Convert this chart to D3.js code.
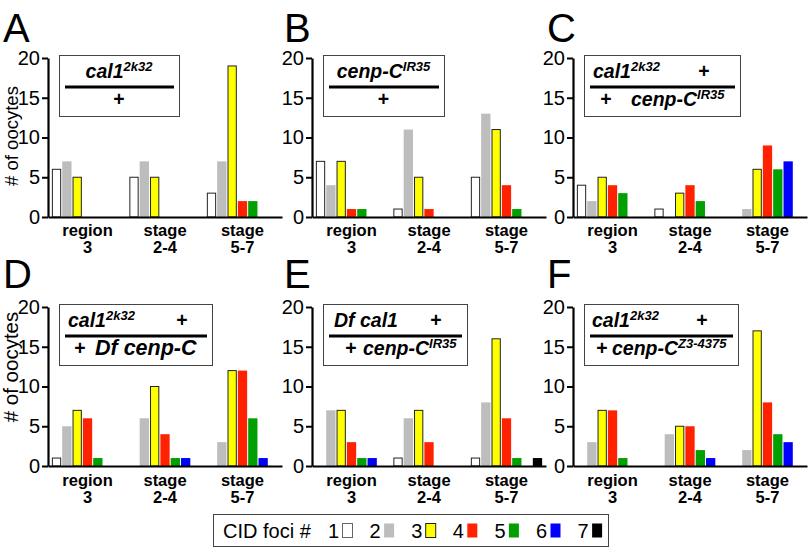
<!DOCTYPE html>
<html>
<head>
<meta charset="utf-8">
<script src="https://cdn.jsdelivr.net/npm/d3@7"></script>
<style>
  body { margin: 0; background: #fff; }
  svg { display: block; font-family: "Liberation Sans", Arial, sans-serif; }
</style>
</head>
<body>
<div id="chart"></div>
<script>
const categories = [['region', '3'], ['stage', '2-4'], ['stage', '5-7']]
const fociNumbers = ['1', '2', '3', '4', '5', '6', '7']
const fociColors = ['#ffffff', '#bdbdbd', '#ffff00', '#ff2200', '#00a000', '#0000ff', '#000000']
const yTicks = [0, 5, 10, 15, 20]
const panelLetters = ['A', 'B', 'C', 'D', 'E', 'F']

// one row per stage, one value per CID foci number (1..7)
const countsA = [[6, 7, 5, 0, 0, 0, 0], [5, 7, 5, 0, 0, 0, 0], [3, 7, 19, 2, 2, 0, 0]]
const countsB = [[7, 4, 7, 1, 1, 0, 0], [1, 11, 5, 1, 0, 0, 0], [5, 13, 11, 4, 1, 0, 0]]
const countsC = [[4, 2, 5, 4, 3, 0, 0], [1, 0, 3, 4, 2, 0, 0], [0, 1, 6, 9, 6, 7, 0]]
const countsD = [[1, 5, 7, 6, 1, 0, 0], [0, 6, 10, 4, 1, 1, 0], [0, 3, 12, 12, 6, 1, 0]]
const countsE = [[0, 7, 7, 3, 1, 1, 0], [1, 6, 7, 3, 0, 0, 0], [1, 8, 16, 6, 1, 0, 1]]
const countsF = [[0, 3, 7, 7, 1, 0, 0], [0, 4, 5, 5, 2, 1, 0], [0, 2, 17, 8, 4, 3, 0]]
const panels = [countsA, countsB, countsC, countsD, countsE, countsF]

// genotype over/under the bar: each piece is [text, superscript]
const genotypes = [
  [[['cal1', '2k32']], [['+', '']]],
  [[['cenp-C', 'IR35']], [['+', '']]],
  [[['cal1', '2k32'], ['+', '']], [['+', ''], ['cenp-C', 'IR35']]],
  [[['cal1', '2k32'], ['+', '']], [['+', ''], ['Df cenp-C', '']]],
  [[['Df cal1', ''], ['+', '']], [['+', ''], ['cenp-C', 'IR35']]],
  [[['cal1', '2k32'], ['+', '']], [['+', ''], ['cenp-C', 'Z3-4375']]]
]

// layout
const W = 810, H = 548
const colX = [48, 312, 573]
const rowBase = [217, 466]
const letterX = [3, 284, 547]
const letterY = [42, 288]
const yLabelY = [136, 367]
const yLabelSize = [18.5, 20.5]
const axisW = 234, axisH = 159
const boxLayout = [
  { w: 120 },
  { w: 121 },
  { w: 156, top: [9, 120], bottom: [22, 47] },
  { w: 153, top: [9, 123], bottom: [21, 36], big: 21.5 },
  { w: 144, top: [11, 113], bottom: [28, 40] },
  { w: 154, top: [8, 118], bottom: [18, 28] }
]

const svg = d3.select('#chart').append('svg')
    .attr('width', W)
    .attr('height', H)

panels.forEach((data, i) => {
  const col = i % 3
  const row = Math.floor(i / 3)
  const g = svg.append('g')
      .attr('transform', 'translate(' + colX[col] + ',' + (rowBase[row] - axisH) + ')')

  const x = d3.scaleBand()
      .domain(d3.range(categories.length))
      .range([0, axisW])
      .paddingInner(0.08)
      .paddingOuter(0.05)
  const xi = d3.scaleBand()
      .domain(d3.range(fociNumbers.length))
      .range([0, x.bandwidth()])
      .paddingInner(0.1)
  const y = d3.scaleLinear().domain([0, 20]).range([axisH, 0])

  // bars
  g.selectAll('g.group')
      .data(data)
    .enter().append('g')
      .attr('class', 'group')
      .attr('transform', (d, k) => 'translate(' + x(k) + ',0)')
    .selectAll('rect')
      .data(d => d.map((v, j) => ({ v, j })).filter(d => d.v > 0))
    .enter().append('rect')
      .attr('x', d => xi(d.j) + (d.j === 0 || d.j === 2 ? 0.5 : 0))
      .attr('width', d => xi.bandwidth() - (d.j === 0 || d.j === 2 ? 1 : 0))
      .attr('y', d => y(d.v))
      .attr('height', d => y(0) - y(d.v))
      .attr('fill', d => fociColors[d.j])
      .attr('stroke', d => (d.j === 0 || d.j === 2) ? '#222' : 'none')
      .attr('stroke-width', 1)

  // axes
  const yAxis = g.append('g')
      .call(d3.axisLeft(y).tickValues(yTicks).tickSize(6).tickSizeOuter(0).tickPadding(2))
  yAxis.select('.domain').attr('stroke-width', 2.2)
  yAxis.selectAll('.tick line').attr('stroke-width', 2)
  yAxis.selectAll('.tick text')
      .attr('font-size', 20)
      .attr('font-family', '"Liberation Sans", Arial, sans-serif')
      .attr('fill', '#000')

  const xAxis = g.append('g')
      .attr('transform', 'translate(0,' + axisH + ')')
      .call(d3.axisBottom(x).tickSize(0).tickSizeOuter(0).tickFormat(''))
  xAxis.select('.domain').attr('stroke-width', 2.2)

  g.selectAll('text.cat')
      .data(categories)
    .enter().append('text')
      .attr('class', 'cat')
      .attr('text-anchor', 'middle')
      .attr('font-size', 16.5)
      .attr('font-weight', 'bold')
      .attr('transform', (d, k) => 'translate(' + (x(k) + x.bandwidth() / 2) + ',' + (axisH + 19 + row) + ')')
    .selectAll('tspan')
      .data(d => d)
    .enter().append('tspan')
      .attr('x', 0)
      .attr('dy', (d, k) => k === 0 ? 0 : 17)
      .text(d => d)

  if (col === 0) {
    g.append('text')
        .attr('transform', 'translate(-30,' + (yLabelY[row] - rowBase[row] + axisH) + ')rotate(-90)')
        .attr('text-anchor', 'middle')
        .attr('font-size', yLabelSize[row])
        .text('# of oocytes')
  }

  // panel letter
  svg.append('text')
      .attr('x', letterX[col])
      .attr('y', letterY[row])
      .attr('font-size', 40)
      .text(panelLetters[i])

  // genotype box
  const lay = boxLayout[i]
  const box = g.append('g').attr('transform', 'translate(11,-3)')
  box.append('rect')
      .attr('x', 0.5).attr('y', 0.5)
      .attr('width', lay.w).attr('height', 61)
      .attr('fill', '#fff')
      .attr('stroke', '#444')
      .attr('stroke-width', 1)
  box.append('line')
      .attr('x1', 6).attr('x2', lay.w - 5)
      .attr('y1', 32).attr('y2', 32)
      .attr('stroke', '#000')
      .attr('stroke-width', 3)

  genotypes[i].forEach((pieces, r) => {
    const baseY = r === 0 ? 23 : 51
    const offs = r === 0 ? lay.top : lay.bottom
    pieces.forEach((p, k) => {
      const single = pieces.length === 1
      const size = (lay.big && r === 1 && p[0] !== '+') ? lay.big : 19.5
      const t = box.append('text')
          .attr('y', baseY)
          .attr('font-size', size)
          .attr('font-weight', 'bold')
          .attr('font-style', p[0] === '+' ? 'normal' : 'italic')
      if (single) {
        t.attr('x', lay.w / 2).attr('text-anchor', 'middle')
      } else if (p[0] === '+') {
        t.attr('x', offs[k]).attr('text-anchor', 'middle')
      } else {
        t.attr('x', offs[k]).attr('text-anchor', 'start')
      }
      t.append('tspan').text(p[0])
      if (p[1]) {
        t.append('tspan')
            .attr('font-size', 13)
            .attr('dy', -7)
            .text(p[1])
      }
    })
  })
})

// legend
const legend = svg.append('g').attr('transform', 'translate(213,514)')
legend.append('rect')
    .attr('x', 0.5).attr('y', 0.5)
    .attr('width', 395).attr('height', 32)
    .attr('fill', '#fff')
    .attr('stroke', '#444')
legend.append('text')
    .attr('x', 10).attr('y', 24)
    .attr('font-size', 20)
    .text('CID foci #')
const items = legend.selectAll('g.item')
    .data(fociNumbers)
  .enter().append('g')
    .attr('class', 'item')
    .attr('transform', (d, k) => 'translate(' + (115 + k * 41.6) + ',0)')
items.append('text')
    .attr('y', 24)
    .attr('font-size', 20)
    .text(d => d)
items.append('rect')
    .attr('x', 14.5).attr('y', 9.5)
    .attr('width', 10).attr('height', 14)
    .attr('fill', (d, k) => fociColors[k])
    .attr('stroke', (d, k) => k === 0 ? '#666' : k === 2 ? '#222' : 'none')
</script>
</body>
</html>
